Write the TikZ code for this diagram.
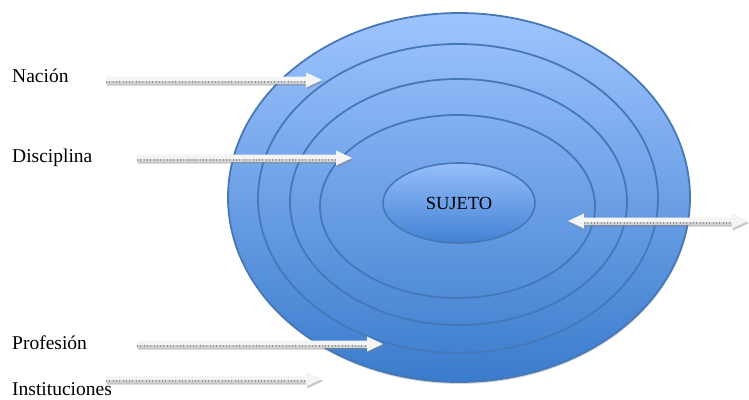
\documentclass[tikz,border=0pt]{standalone}
\usepackage{fontspec}
\setmainfont{Liberation Serif}
\usetikzlibrary{shapes.geometric,calc}
\definecolor{ringline}{RGB}{70,120,184}
\definecolor{btop}{RGB}{158,196,255}
\definecolor{bbot}{RGB}{58,124,204}
\definecolor{itop}{RGB}{150,190,250}
\definecolor{ibot}{RGB}{66,130,212}
\definecolor{arrlight}{RGB}{244,244,244}
\definecolor{arrmid}{RGB}{210,210,210}
\definecolor{arrtick}{RGB}{150,150,150}
\definecolor{arrshad}{RGB}{130,130,130}
\tikzset{
  ring/.style={ellipse, draw=ringline, line width=1.8pt, inner sep=0pt},
  lab/.style={anchor=base west, inner sep=0pt, font=\fontsize{19.5}{20}\selectfont},
}
% right-pointing block arrow from coordinate #1 to tip coordinate #2
\newcommand\rblock[2]{%
  \fill[arrshad, fill opacity=.45] let \p1=(#1), \p2=(#2) in
    (\x1+1pt,\y1+1.5pt) -- (\x2-15pt,\y1+1.5pt) -- (\x2-15pt,\y1+5.5pt) -- (\x2+1pt,\y1-2pt)
    -- (\x2-15pt,\y1-9.5pt) -- (\x2-15pt,\y1-5.5pt) -- (\x1+1pt,\y1-5.5pt) -- cycle;
  \fill[arrlight] let \p1=(#1), \p2=(#2) in
    (\x1,\y1+3.5pt) -- (\x2-16pt,\y1+3.5pt) -- (\x2-16pt,\y1+7.5pt) -- (\x2,\y1)
    -- (\x2-16pt,\y1-7.5pt) -- (\x2-16pt,\y1-3.5pt) -- (\x1,\y1-3.5pt) -- cycle;
  \fill[arrmid] let \p1=(#1), \p2=(#2) in
    (\x1,\y1-0.5pt) rectangle (\x2-16pt,\y1-3.5pt);
  \draw[arrtick, line width=2.2pt, dash pattern=on 0.7pt off 2.6pt] let \p1=(#1), \p2=(#2) in
    (\x1,\y1-2.2pt) -- (\x2-16pt,\y1-2.2pt);
}
% double-headed block arrow between tips #1 (left) and #2 (right)
\newcommand\dblock[2]{%
  \fill[arrshad, fill opacity=.45] let \p1=(#1), \p2=(#2) in
    (\x1+1pt,\y1-2pt) -- (\x1+17pt,\y1+5.5pt) -- (\x1+17pt,\y1+1.5pt) -- (\x2-15pt,\y1+1.5pt)
    -- (\x2-15pt,\y1+5.5pt) -- (\x2+1pt,\y1-2pt) -- (\x2-15pt,\y1-9.5pt) -- (\x2-15pt,\y1-5.5pt)
    -- (\x1+17pt,\y1-5.5pt) -- (\x1+17pt,\y1-9.5pt) -- cycle;
  \fill[arrlight] let \p1=(#1), \p2=(#2) in
    (\x1,\y1) -- (\x1+16pt,\y1+7.5pt) -- (\x1+16pt,\y1+3.5pt) -- (\x2-16pt,\y1+3.5pt)
    -- (\x2-16pt,\y1+7.5pt) -- (\x2,\y1) -- (\x2-16pt,\y1-7.5pt) -- (\x2-16pt,\y1-3.5pt)
    -- (\x1+16pt,\y1-3.5pt) -- (\x1+16pt,\y1-7.5pt) -- cycle;
  \fill[arrmid] let \p1=(#1), \p2=(#2) in
    (\x1+16pt,\y1-0.5pt) rectangle (\x2-16pt,\y1-3.5pt);
  \draw[arrtick, line width=2.2pt, dash pattern=on 0.7pt off 2.6pt] let \p1=(#1), \p2=(#2) in
    (\x1+16pt,\y1-2.2pt) -- (\x2-16pt,\y1-2.2pt);
}
\begin{document}
\begin{tikzpicture}[x=1pt,y=-1pt]
\useasboundingbox (0,0) rectangle (749,399);
% shadow of the outer ellipse
\node[ellipse, inner sep=0pt, minimum width=462pt, minimum height=369pt,
      fill=black!30, fill opacity=.5] (outershadow) at (459.5,199.5) {};
% rings
\node[ring, minimum width=462pt, minimum height=369pt, top color=btop, bottom color=bbot] (outer) at (459,197.5) {};
\node[ring, minimum width=400pt, minimum height=309pt] (ring2) at (458,198.5) {};
\node[ring, minimum width=337pt, minimum height=246pt] (ring3) at (458.5,202) {};
\node[ring, minimum width=275pt, minimum height=183pt] (ring4) at (457.5,206.5) {};
\node[ring, line width=1.6pt, minimum width=152pt, minimum height=80pt, top color=itop, bottom color=ibot,
      font=\fontsize{18.5}{20}\selectfont] (sujeto) at (459,203) {SUJETO};
% labels
\node[lab] (nacion) at (12,82) {Nación};
\node[lab] (disciplina) at (12,162) {Disciplina};
\node[lab] (profesion) at (12,349) {Profesión};
\node[lab] (instituciones) at (12,395) {Instituciones};
% arrow end points
\coordinate (a1s) at (106,80);  \coordinate (a1t) at (322,80);
\coordinate (a2s) at (137,158); \coordinate (a2t) at (352,158);
\coordinate (a3s) at (137,344); \coordinate (a3t) at (383,344);
\coordinate (a4s) at (106,379); \coordinate (a4t) at (322,379);
\coordinate (d1) at (568,221);  \coordinate (d2) at (748,221);
\rblock{a1s}{a1t}
\rblock{a2s}{a2t}
\rblock{a3s}{a3t}
\rblock{a4s}{a4t}
\dblock{d1}{d2}
\end{tikzpicture}
\end{document}
